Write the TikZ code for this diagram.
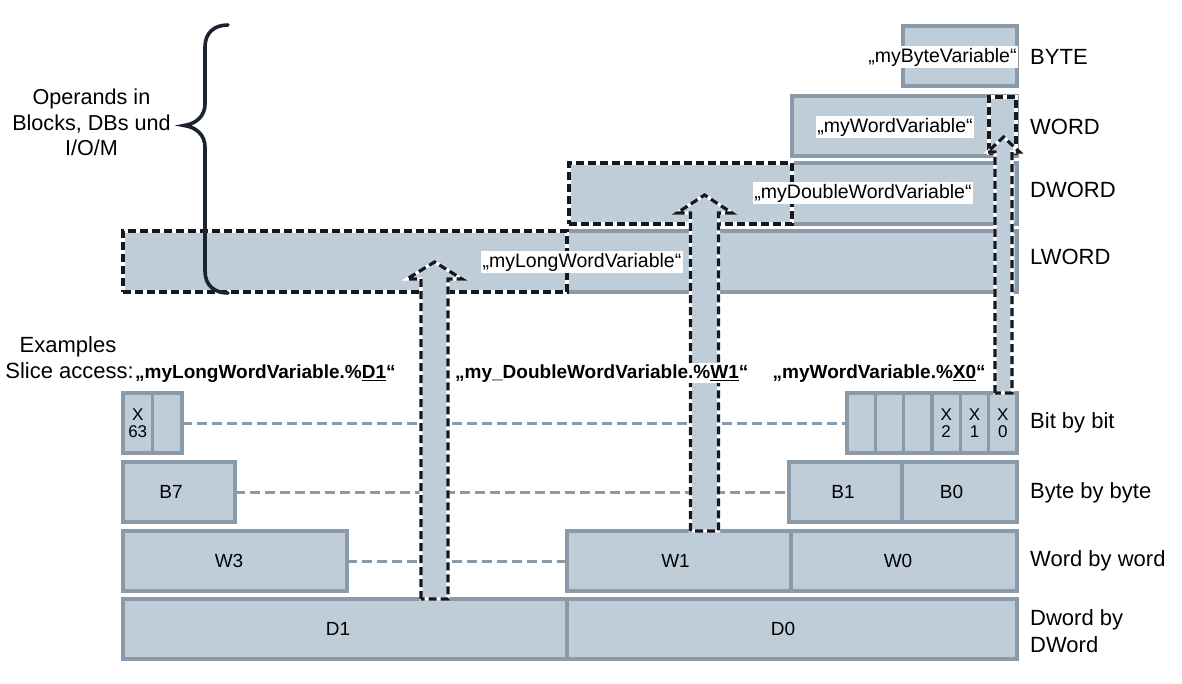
\documentclass[tikz,border=0pt]{standalone}
\usepackage{fontspec}
\setmainfont{Liberation Sans}
\usetikzlibrary{calc}
\definecolor{boxfill}{RGB}{191,205,217}
\definecolor{bord}{RGB}{138,154,168}
\definecolor{dashc}{RGB}{20,25,32}
\definecolor{bracec}{RGB}{27,36,46}
\newcommand\ulx[1]{\setbox0\hbox{#1}\rlap{\rule[-3.4pt]{\wd0}{1.9pt}}\box0}
\newcommand\fatarrow[5]{%
  \draw[fatarr] ($(#1)+(-#3,0)$) -- ($(#2)+(-#3,#5)$) -- ($(#2)+(-#4,#5)$) -- (#2)
     -- ($(#2)+(#4,#5)$) -- ($(#2)+(#3,#5)$) -- ($(#1)+(#3,0)$) -- cycle;}
\begin{document}
\begin{tikzpicture}[x=1pt,y=-1pt,
  box/.style={rectangle, draw=bord, fill=boxfill, line width=3.3pt, inner sep=0pt, outer sep=0pt, anchor=north west, font=\fontsize{19}{21}\selectfont},
  bitbox/.style={box, align=center, font=\fontsize{17}{17.5}\selectfont},
  hlbox/.style={rectangle, fill=boxfill, draw=white, line width=3.2pt, inner sep=0pt, outer sep=0pt, anchor=north west,
     postaction={draw=dashc, line width=3.2pt, dash pattern=on 8pt off 4pt}},
  fatarr/.style={fill=boxfill, draw=white, line width=3.2pt, line join=miter,
     postaction={draw=dashc, line width=3.2pt, dash pattern=on 8pt off 4pt}},
  gdash/.style={draw=bord, line width=3pt, dash pattern=on 10pt off 5pt},
  qlab/.style={fill=white, inner sep=1.5pt, font=\fontsize{19.5}{21}\selectfont},
  exlab/.style={fill=white, inner sep=1.5pt, anchor=base west, font=\fontsize{19}{21}\selectfont\bfseries},
  rlab/.style={anchor=base west, inner sep=0pt, font=\fontsize{22}{27}\selectfont, align=left},
  txt/.style={inner sep=0pt, font=\fontsize{22}{26}\selectfont},
  bracepath/.style={draw=bracec, line width=3.6pt, line cap=round}
]
\useasboundingbox (0,0) rectangle (1182,684);

% --- upper data types
\node[box, minimum width=114pt, minimum height=60pt] (byte) at (903,26) {};
\node[box, minimum width=225pt, minimum height=60pt] (word) at (792,96) {};
\node[box, minimum width=225pt, minimum height=61pt] (dwR) at (792,163) {};
\node[box, minimum width=450pt, minimum height=61pt] (lwR) at (567,231) {};
\node[hlbox, minimum width=223pt, minimum height=61pt] (dwL) at (569,163) {};
\node[hlbox, minimum width=444pt, minimum height=61pt] (lwL) at (123,231) {};
\node[hlbox, minimum width=27pt, minimum height=56pt] (wsel) at (989,97) {};

% --- brace
\coordinate (bracetip) at (184,125.5);
\draw[bracepath] (228,25) .. controls (214,25) and (205,33) .. (205,47) -- (205,104)
   .. controls (205,116) and (196,124) .. (bracetip)
   .. controls (196,127) and (205,135) .. (205,147) -- (205,271)
   .. controls (205,285) and (214,293) .. (228,293);
\node[txt, align=center, font=\fontsize{21.6}{25.5}\selectfont] (ops) at (91.5,122.5) {Operands in\\Blocks, DBs und\\I/O/M};

% --- bit row
\node[bitbox, minimum width=29.5pt, minimum height=60pt] (b63) at (123,393) {X\\63};
\node[bitbox, minimum width=29.5pt, minimum height=60pt] (b62) at (152.5,393) {};
\node[bitbox, minimum width=28.33pt, minimum height=60pt] (bt5) at (847,393) {};
\node[bitbox, minimum width=28.33pt, minimum height=60pt] (bt4) at (875.33,393) {};
\node[bitbox, minimum width=28.33pt, minimum height=60pt] (bt3) at (903.67,393) {};
\node[bitbox, minimum width=28.33pt, minimum height=60pt] (bt2) at (932,393) {X\\2};
\node[bitbox, minimum width=28.33pt, minimum height=60pt] (bt1) at (960.33,393) {X\\1};
\node[bitbox, minimum width=28.33pt, minimum height=60pt] (bt0) at (988.67,393) {X\\0};

% --- byte row
\node[box, minimum width=112pt, minimum height=60pt] (B7) at (123,462) {B7\hspace*{16pt}};
\node[box, minimum width=113pt, minimum height=60pt] (B1) at (789,462) {B1\hspace*{5pt}};
\node[box, minimum width=115pt, minimum height=60pt] (B0) at (902,462) {B0\hspace*{16pt}};

% --- word row
\node[box, minimum width=224pt, minimum height=60pt] (W3) at (123,531) {W3\hspace*{12pt}};
\node[box, minimum width=224pt, minimum height=60pt] (W1) at (567,531) {W1\hspace*{7pt}};
\node[box, minimum width=226pt, minimum height=60pt] (W0) at (791,531) {W0\hspace*{12pt}};

% --- dword row
\node[box, minimum width=444pt, minimum height=60pt] (D1) at (123,599) {D1\hspace*{14pt}};
\node[box, minimum width=450pt, minimum height=60pt] (D0) at (567,599) {D0\hspace*{18pt}};

% --- gray dashed connectors
\draw[gdash] (b62.east) -- (bt5.west);
\draw[gdash] (B7.east) -- (B1.west);
\draw[gdash] (W3.east) -- (W1.west);

% --- fat dashed arrows
\coordinate (a1t) at (434.5,262);
\coordinate (a2t) at (704.5,195);
\coordinate (a3t) at (1003.5,137);
\coordinate (a1s) at (a1t |- D1.north);
\coordinate (a2s) at (a2t |- W1.north);
\coordinate (a3s) at (a3t |- bt0.north);
\fatarrow{a1s}{a1t}{13.5}{27.5}{17}
\fatarrow{a2s}{a2t}{14}{27.5}{18}
\fatarrow{a3s}{a3t}{8.5}{16}{15}

% --- variable labels
\node[qlab] (lbyte) at (942.5,57) {„myByteVariable“};
\node[qlab] (lword) at (895,127) {„myWordVariable“};
\node[qlab] (ldword) at (863,193) {„myDoubleWordVariable“};
\node[qlab] (llword) at (582,262) {„myLongWordVariable“};

% --- examples
\node[txt, anchor=base] (exa) at (68,352) {Examples};
\node[txt, anchor=base east] (slice) at (134,378) {Slice access:};
\node[exlab] (exD1) at (133.5,378) {„myLongWordVariable.\%\ulx{D1}“};
\node[exlab] (exW1) at (453.5,378) {„my\_DoubleWordVariable.\%\ulx{W1}“};
\node[exlab] (exX0) at (771,378) {„myWordVariable.\%\ulx{X0}“};

% --- right column labels
\node[rlab] (rByte) at (1030,65) {BYTE};
\node[rlab] (rWord) at (1030,135) {WORD};
\node[rlab] (rDword) at (1030,198) {DWORD};
\node[rlab] (rLword) at (1030,265) {LWORD};
\node[rlab] (rBit) at (1030,428) {Bit by bit};
\node[rlab] (rByteby) at (1030,498) {Byte by byte};
\node[rlab] (rWordby) at (1030,566) {Word by word};
\node[rlab, anchor=west] (rDwordby) at (1030,631) {Dword by\\DWord};
\end{tikzpicture}
\end{document}
